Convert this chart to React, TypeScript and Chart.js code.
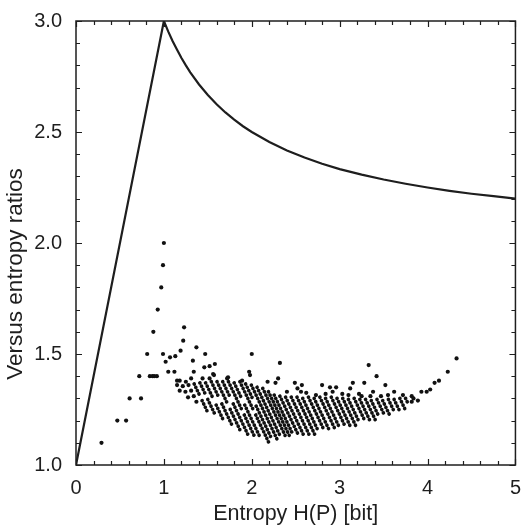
import React, { useEffect, useRef } from 'react';
import { Chart, registerables } from 'chart.js';

Chart.register(...registerables);

// Upper bound curve
const lineX = [0, 1, 1.05, 1.1, 1.15, 1.2, 1.25, 1.3, 1.4, 1.5, 1.6, 1.7, 1.8, 1.9, 2.0, 2.2, 2.4, 2.6, 2.8, 3.0, 3.25, 3.5, 3.75, 4.0, 4.25, 4.5, 4.75, 5.0];
const lineY = [1.0, 3.0, 2.952, 2.909, 2.87, 2.833, 2.8, 2.769, 2.714, 2.667, 2.625, 2.588, 2.556, 2.526, 2.5, 2.455, 2.417, 2.385, 2.357, 2.333, 2.308, 2.286, 2.267, 2.25, 2.235, 2.222, 2.211, 2.2];

// Isolated points
const sparsePoints: [number, number][] = [
  [0.29, 1.10], [0.47, 1.20], [0.57, 1.20], [0.61, 1.30], [0.72, 1.40], [0.74, 1.30], [0.81, 1.50],
  [0.84, 1.40], [0.87, 1.40], [0.89, 1.40], [0.92, 1.40], [0.88, 1.60], [0.93, 1.70], [0.97, 1.80],
  [0.99, 1.90], [1.00, 2.00], [0.99, 1.50], [1.02, 1.465], [1.07, 1.485], [1.05, 1.42], [1.12, 1.42],
  [1.13, 1.49], [1.15, 1.38], [1.19, 1.515], [1.22, 1.56], [1.23, 1.62], [1.37, 1.53], [1.47, 1.50],
  [1.33, 1.47], [1.46, 1.44], [1.52, 1.445], [1.58, 1.455], [1.34, 1.42], [1.56, 1.41], [1.73, 1.395],
  [1.18, 1.38], [1.25, 1.375], [1.31, 1.39], [1.44, 1.39], [1.52, 1.39], [1.57, 1.405], [1.72, 1.39],
  [1.89, 1.38], [1.97, 1.42], [1.98, 1.405], [2.00, 1.50], [2.18, 1.375], [2.27, 1.37], [2.30, 1.39],
  [2.32, 1.46], [2.40, 1.33], [2.52, 1.345], [2.56, 1.33], [2.49, 1.37], [2.57, 1.36], [2.62, 1.325],
  [2.73, 1.315], [2.80, 1.36], [2.84, 1.32], [2.89, 1.35], [2.92, 1.33], [2.96, 1.35], [3.03, 1.32],
  [3.10, 1.315], [3.12, 1.345], [3.15, 1.37], [3.22, 1.32], [3.28, 1.37], [3.25, 1.31], [3.33, 1.45],
  [3.38, 1.33], [3.35, 1.31], [3.42, 1.40], [3.47, 1.31], [3.52, 1.36], [3.55, 1.315], [3.62, 1.33],
  [3.72, 1.315], [3.82, 1.31], [3.84, 1.30], [3.89, 1.29], [3.82, 1.285], [3.93, 1.33], [3.99, 1.33],
  [4.03, 1.34], [4.08, 1.37], [4.13, 1.38], [4.23, 1.42], [4.33, 1.48],
  [1.15, 1.36], [1.18, 1.335], [1.215, 1.355], [1.245, 1.33], [1.275, 1.305],
  [1.28, 1.36], [1.31, 1.335], [1.34, 1.31], [1.37, 1.285],
];

// Dense diagonal runs of touching points: [xTop, yTop, xBottom, yBottom]
const stripeSegments: [number, number, number, number][] = [
  [1.345, 1.365, 1.405, 1.315], [1.435, 1.29, 1.495, 1.24],
  [1.41, 1.37, 1.47, 1.32], [1.5, 1.295, 1.59, 1.22],
  [1.475, 1.37, 1.565, 1.295], [1.595, 1.27, 1.685, 1.195],
  [1.54, 1.375, 1.63, 1.3], [1.66, 1.275, 1.78, 1.175],
  [1.605, 1.375, 1.725, 1.275], [1.755, 1.25, 1.875, 1.15],
  [1.67, 1.375, 1.76, 1.3], [1.79, 1.275, 1.97, 1.125],
  [1.735, 1.375, 1.885, 1.25], [1.915, 1.225, 2.035, 1.125],
  [1.8, 1.37, 1.89, 1.295], [1.92, 1.27, 2.1, 1.12],
  [1.865, 1.375, 2.015, 1.25], [2.045, 1.225, 2.195, 1.1],
  [1.93, 1.365, 2.02, 1.29], [2.05, 1.265, 2.23, 1.115],
  [1.995, 1.36, 2.295, 1.11],
  [2.06, 1.35, 2.33, 1.125],
  [2.125, 1.345, 2.395, 1.12],
  [2.19, 1.33, 2.43, 1.13],
  [2.255, 1.315, 2.465, 1.14],
  [2.32, 1.31, 2.53, 1.135],
  [2.385, 1.305, 2.595, 1.13],
  [2.45, 1.305, 2.66, 1.13],
  [2.515, 1.305, 2.725, 1.13],
  [2.58, 1.3, 2.76, 1.15],
  [2.645, 1.305, 2.825, 1.155],
  [2.71, 1.3, 2.89, 1.15],
  [2.775, 1.305, 2.955, 1.155],
  [2.84, 1.3, 2.99, 1.175],
  [2.905, 1.305, 3.055, 1.18],
  [2.97, 1.3, 3.12, 1.175],
  [3.035, 1.3, 3.185, 1.175],
  [3.1, 1.295, 3.22, 1.195],
  [3.165, 1.3, 3.285, 1.2],
  [3.23, 1.295, 3.35, 1.195],
  [3.295, 1.295, 3.415, 1.195],
  [3.36, 1.29, 3.45, 1.215],
  [3.425, 1.295, 3.515, 1.22],
  [3.49, 1.29, 3.58, 1.215],
  [3.555, 1.295, 3.615, 1.245],
  [3.62, 1.295, 3.68, 1.245],
  [3.685, 1.3, 3.745, 1.25],
  [3.75, 1.3, 3.78, 1.275],
];

const xTickValues = [0, 1, 2, 3, 4, 5];
const yTickValues = [1.0, 1.5, 2.0, 2.5, 3.0];
const xTitle = 'Entropy H(P) [bit]';
const yTitle = 'Versus entropy ratios';

const FONT = "'Liberation Sans', Arial, Helvetica, sans-serif";
const INK = '#1e1e1e';
const DOT_R = 2.1;
const RUN_W = 3.7;

const framePlugin = {
  id: 'frameTicks',
  afterDraw(chart: any) {
    const { ctx, chartArea: a, scales } = chart;
    const xs = scales.x;
    const ys = scales.y;
    ctx.save();
    ctx.strokeStyle = INK;
    ctx.lineWidth = 1.5;
    ctx.strokeRect(a.left, a.top, a.right - a.left, a.bottom - a.top);
    ctx.lineWidth = 1.2;
    ctx.beginPath();
    for (let i = 0; i <= 25; i++) {
      const v = i * 0.2;
      const px = Math.round(xs.getPixelForValue(v)) + 0.5;
      const len = i % 5 === 0 ? 6 : 4;
      ctx.moveTo(px, a.bottom);
      ctx.lineTo(px, a.bottom - len);
      ctx.moveTo(px, a.top);
      ctx.lineTo(px, a.top + len);
    }
    for (let i = 0; i <= 20; i++) {
      const v = 1 + i * 0.1;
      const py = Math.round(ys.getPixelForValue(v)) + 0.5;
      const len = i % 5 === 0 ? 6 : 4;
      ctx.moveTo(a.left, py);
      ctx.lineTo(a.left + len, py);
      ctx.moveTo(a.right, py);
      ctx.lineTo(a.right - len, py);
    }
    ctx.stroke();
    // y axis title, placed as in the reference (slightly below the plot centre)
    ctx.fillStyle = INK;
    ctx.font = `22.5px ${FONT}`;
    ctx.textAlign = 'center';
    ctx.textBaseline = 'middle';
    ctx.translate(16, 274);
    ctx.rotate(-Math.PI / 2);
    ctx.fillText(yTitle, 0, 0);
    ctx.restore();
  },
};

export default function App() {
  const ref = useRef<HTMLCanvasElement | null>(null);

  useEffect(() => {
    if (!ref.current) return;
    const segData: any[] = [];
    stripeSegments.forEach(([x1, y1, x2, y2]) => {
      segData.push({ x: x1, y: y1 }, { x: x2, y: y2 }, { x: x2, y: null });
    });
    const chart = new Chart(ref.current, {
      type: 'scatter',
      data: {
        datasets: [
          {
            label: 'bound',
            data: lineX.map((x, i) => ({ x, y: lineY[i] })),
            showLine: true,
            borderColor: INK,
            borderWidth: 2.2,
            pointRadius: 0,
            fill: false,
            tension: 0,
          } as any,
          {
            label: 'points',
            data: sparsePoints.map(([x, y]) => ({ x, y })),
            backgroundColor: '#111',
            borderWidth: 0,
            pointRadius: DOT_R,
          },
          {
            label: 'runs',
            data: segData,
            showLine: true,
            spanGaps: false,
            borderColor: '#111',
            borderWidth: RUN_W,
            borderCapStyle: 'round',
            borderJoinStyle: 'round',
            borderDash: [0.01, 3.7],
            pointRadius: 0,
            fill: false,
          } as any,
        ],
      },
      options: {
        responsive: false,
        animation: false,
        layout: { padding: { top: 21, right: 4, left: 0, bottom: 0 } },
        plugins: { legend: { display: false }, tooltip: { enabled: false } },
        scales: {
          x: {
            type: 'linear',
            min: 0,
            max: 5,
            afterBuildTicks: (s: any) => { s.ticks = xTickValues.map((v) => ({ value: v })); },
            afterFit: (s: any) => { s.height = 62; },
            grid: { display: false },
            border: { display: false },
            ticks: {
              autoSkip: false,
              maxRotation: 0,
              padding: 3,
              color: INK,
              font: { family: FONT, size: 20 },
              callback: (v: any) => String(v),
            },
            title: {
              display: true,
              text: xTitle,
              color: INK,
              font: { family: FONT, size: 21.5 },
              padding: { top: 0, bottom: 0 },
            },
          },
          y: {
            type: 'linear',
            min: 1,
            max: 3,
            afterBuildTicks: (s: any) => { s.ticks = yTickValues.map((v) => ({ value: v })); },
            afterFit: (s: any) => { s.width = 76; },
            grid: { display: false },
            border: { display: false },
            ticks: {
              autoSkip: false,
              padding: 6,
              color: INK,
              font: { family: FONT, size: 20 },
              callback: (v: any) => Number(v).toFixed(1),
            },
            title: { display: false },
          },
        },
      },
      plugins: [framePlugin],
    });
    return () => chart.destroy();
  }, []);

  return (
    <div style={{ position: 'fixed', left: 0, top: 0, width: 524, height: 527, background: '#fff' }}>
      <canvas ref={ref} width={524} height={527} style={{ display: 'block' }} />
    </div>
  );
}
